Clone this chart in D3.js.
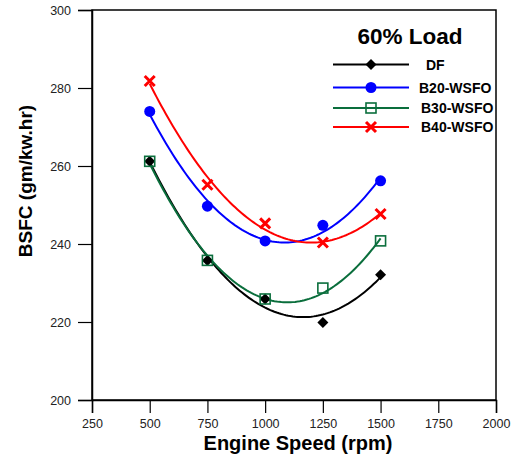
<!DOCTYPE html>
<html>
<head>
<meta charset="utf-8">
<script src="https://cdn.jsdelivr.net/npm/d3@7"></script>
<style>
  body { margin: 0; background: #fff; }
  svg { display: block; font-family: Arial, "Liberation Sans", sans-serif; }
</style>
</head>
<body>
<div id="chart"></div>
<script>
const speeds = [500, 750, 1000, 1250, 1500];
const df = [261.2, 235.8, 225.9, 219.9, 232.1];
const b20 = [274.0, 249.7, 240.8, 244.8, 256.2];
const b30 = [261.2, 235.8, 225.9, 228.7, 240.8];
const b40 = [281.8, 255.2, 245.3, 240.4, 247.7];
const seriesNames = ['DF', 'B20-WSFO', 'B30-WSFO', 'B40-WSFO'];
const xTicks = [250, 500, 750, 1000, 1250, 1500, 1750, 2000];
const yTicks = [200, 220, 240, 260, 280, 300];

const width = 518, height = 461;
const margin = { top: 10, right: 22, bottom: 61, left: 92 };

const series = [
  { name: seriesNames[0], values: df, color: '#000000', marker: 'diamond' },
  { name: seriesNames[1], values: b20, color: '#0000ff', marker: 'circle' },
  { name: seriesNames[2], values: b30, color: '#0a6e3c', marker: 'square' },
  { name: seriesNames[3], values: b40, color: '#ff0000', marker: 'cross' }
];

const svg = d3.select('#chart').append('svg')
  .attr('width', width)
  .attr('height', height);

const x = d3.scaleLinear().domain([250, 2000]).range([margin.left, width - margin.right]);
const y = d3.scaleLinear().domain([200, 300]).range([height - margin.bottom, margin.top]);

// quadratic least squares fit, like the original plotting tool
function quadFit(xs, ys) {
  let s = [0, 0, 0, 0, 0], t = [0, 0, 0];
  xs.forEach((xv, i) => {
    const u = (xv - 1000) / 250;
    for (let k = 0; k < 5; k++) s[k] += Math.pow(u, k);
    for (let k = 0; k < 3; k++) t[k] += Math.pow(u, k) * ys[i];
  });
  const A = [[s[0], s[1], s[2]], [s[1], s[2], s[3]], [s[2], s[3], s[4]]];
  const det = m => m[0][0] * (m[1][1] * m[2][2] - m[1][2] * m[2][1])
    - m[0][1] * (m[1][0] * m[2][2] - m[1][2] * m[2][0])
    + m[0][2] * (m[1][0] * m[2][1] - m[1][1] * m[2][0]);
  const D = det(A);
  const coef = [0, 1, 2].map(c => det(A.map((row, r) => row.map((v, j) => j === c ? t[r] : v))) / D);
  return xv => {
    const u = (xv - 1000) / 250;
    return coef[0] + coef[1] * u + coef[2] * u * u;
  };
}

const g = svg.append('g');

// frame
g.append('rect')
  .attr('x', margin.left).attr('y', margin.top)
  .attr('width', width - margin.right - margin.left)
  .attr('height', height - margin.bottom - margin.top)
  .attr('fill', 'none').attr('stroke', '#000').attr('stroke-width', 1.5);

// x axis
const xAxis = g.append('g').attr('transform', `translate(0,${height - margin.bottom})`);
xAxis.call(d3.axisBottom(x).tickValues(d3.range(250, 2001, 50)).tickSize(5).tickFormat(''));
xAxis.call(d3.axisBottom(x).tickValues(xTicks).tickSize(13).tickPadding(6).tickFormat(d3.format('d')));
xAxis.selectAll('.domain').attr('stroke-width', 1.5);
xAxis.selectAll('.tick line').attr('stroke-width', 1.2);
xAxis.selectAll('text').attr('font-size', 12.5).attr('font-family', 'Arial, "Liberation Sans", sans-serif').attr('fill', '#222');

// y axis
const yAxis = g.append('g').attr('transform', `translate(${margin.left},0)`);
yAxis.call(d3.axisLeft(y).tickValues(d3.range(200, 301, 5)).tickSize(6).tickFormat(''));
yAxis.call(d3.axisLeft(y).tickValues(yTicks).tickSize(14).tickPadding(7).tickFormat(d3.format('d')));
yAxis.selectAll('.domain').attr('stroke-width', 1.5);
yAxis.selectAll('.tick line').attr('stroke-width', 1.2);
yAxis.selectAll('text').attr('font-size', 12.5).attr('font-family', 'Arial, "Liberation Sans", sans-serif').attr('fill', '#222');

// axis titles
svg.append('text')
  .attr('x', 298).attr('y', 450)
  .attr('text-anchor', 'middle')
  .attr('font-size', 20).attr('font-weight', 'bold')
  .text('Engine Speed (rpm)');

svg.append('text')
  .attr('transform', 'translate(32,181) rotate(-90)')
  .attr('text-anchor', 'middle')
  .attr('font-size', 19).attr('font-weight', 'bold')
  .text('BSFC (gm/kw.hr)');

function drawMarker(sel, type, color) {
  if (type === 'diamond') {
    sel.append('path').attr('d', 'M0,-5.5L5.5,0L0,5.5L-5.5,0Z').attr('fill', color);
  } else if (type === 'circle') {
    sel.append('circle').attr('r', 5.5).attr('fill', color);
  } else if (type === 'square') {
    sel.append('rect').attr('x', -5).attr('y', -5).attr('width', 10).attr('height', 10)
      .attr('fill', 'none').attr('stroke', color).attr('stroke-width', 1.6);
  } else if (type === 'cross') {
    sel.append('path').attr('d', 'M-5,-5L5,5M-5,5L5,-5')
      .attr('stroke', color).attr('stroke-width', 3);
  }
}

const line = d3.line().x(d => x(d[0])).y(d => y(d[1]));

series.forEach(s => {
  const fit = quadFit(speeds, s.values);
  const pts = d3.range(500, 1500.1, 10).map(v => [v, fit(v)]);
  g.append('path')
    .datum(pts)
    .attr('d', line)
    .attr('fill', 'none')
    .attr('stroke', s.color)
    .attr('stroke-width', 2);
});

series.forEach(s => {
  speeds.forEach((sp, i) => {
    const m = g.append('g').attr('transform', `translate(${x(sp)},${y(s.values[i])})`);
    drawMarker(m, s.marker, s.color);
  });
});

// legend
svg.append('text')
  .attr('x', 410).attr('y', 44)
  .attr('text-anchor', 'middle')
  .attr('font-size', 22.5).attr('font-weight', 'bold')
  .text('60% Load');

const legendY = [64.5, 87.5, 108, 127];
const legendLabelX = [426, 419, 421, 421];
series.forEach((s, i) => {
  const lg = svg.append('g').attr('transform', `translate(0,${legendY[i]})`);
  lg.append('line').attr('x1', 333).attr('x2', 409)
    .attr('stroke', s.color).attr('stroke-width', 2);
  const m = lg.append('g').attr('transform', 'translate(371,0)');
  drawMarker(m, s.marker, s.color);
  lg.append('text')
    .attr('x', legendLabelX[i]).attr('y', 5)
    .attr('font-size', 14).attr('font-weight', 'bold')
    .text(s.name);
});
</script>
</body>
</html>
